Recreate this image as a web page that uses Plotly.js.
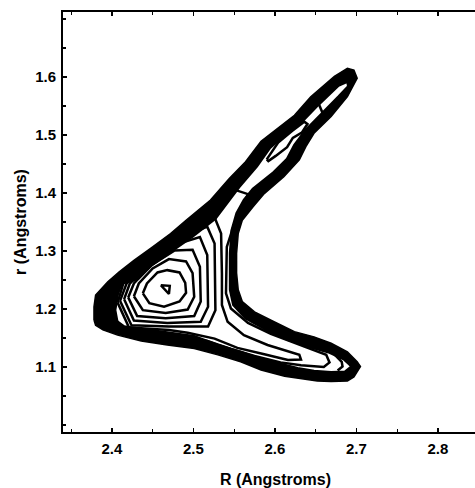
<!DOCTYPE html>
<html>
<head>
<meta charset="utf-8">
<script src="https://cdn.plot.ly/plotly-3.0.1.min.js"></script>
<style>
  html, body { margin: 0; padding: 0; overflow: hidden; background: #fff; }
  #chart { width: 490px; height: 488px; }
</style>
</head>
<body>
<div id="chart"></div>
<script>
// Axis ticks
const xTicks = [2.4, 2.5, 2.6, 2.7, 2.8];
const yTicks = [1.1, 1.2, 1.3, 1.4, 1.5, 1.6];

// Outer boundary of the density (outermost contour), R / r in Angstroms
const outerR = [2.378,2.378,2.380,2.395,2.409,2.427,2.450,2.472,2.491,2.509,2.521,2.544,2.564,2.583,2.603,2.624,2.644,2.673,2.689,2.697,2.701,2.689,2.669,2.648,2.638,2.630,2.611,2.587,2.573,2.560,2.555,2.553,2.553,2.555,2.560,2.575,2.599,2.624,2.648,2.669,2.689,2.701,2.705,2.697,2.689,2.669,2.652,2.632,2.612,2.583,2.558,2.530,2.501,2.468,2.436,2.407,2.389,2.380];
const outerr = [1.181,1.204,1.224,1.247,1.264,1.284,1.307,1.330,1.353,1.374,1.388,1.425,1.454,1.489,1.511,1.534,1.566,1.601,1.615,1.612,1.598,1.566,1.532,1.503,1.480,1.457,1.428,1.399,1.376,1.353,1.330,1.296,1.262,1.233,1.213,1.195,1.178,1.161,1.152,1.141,1.126,1.109,1.101,1.083,1.076,1.075,1.076,1.080,1.084,1.095,1.109,1.121,1.132,1.138,1.145,1.155,1.164,1.172];

// Inner edge of the dense band of outer contours
const bandR = [2.403,2.405,2.412,2.432,2.450,2.474,2.499,2.527,2.556,2.578,2.594,2.612,2.634,2.654,2.678,2.689,2.690,2.678,2.657,2.638,2.624,2.615,2.597,2.573,2.562,2.553,2.547,2.545,2.545,2.549,2.564,2.591,2.616,2.644,2.667,2.685,2.694,2.686,2.669,2.648,2.628,2.607,2.583,2.558,2.530,2.501,2.468,2.436,2.415,2.405];
const bandr = [1.195,1.218,1.244,1.252,1.277,1.300,1.325,1.356,1.410,1.446,1.478,1.500,1.524,1.553,1.585,1.592,1.584,1.566,1.537,1.509,1.483,1.459,1.434,1.407,1.388,1.365,1.336,1.296,1.233,1.207,1.184,1.163,1.147,1.134,1.125,1.113,1.101,1.092,1.091,1.093,1.098,1.105,1.114,1.126,1.138,1.153,1.160,1.166,1.170,1.180];

// Contour reaching into both arms
const armR = [2.404,2.409,2.444,2.495,2.528,2.552,2.567,2.558,2.549,2.541,2.540,2.546,2.567,2.595,2.624,2.646,2.663,2.667,2.660,2.632,2.607,2.575,2.546,2.517,2.470,2.423,2.407];
const armr = [1.198,1.244,1.290,1.339,1.364,1.405,1.398,1.371,1.342,1.307,1.227,1.201,1.176,1.157,1.141,1.130,1.121,1.108,1.100,1.103,1.108,1.119,1.131,1.145,1.156,1.163,1.175];

// Rings around the maximum (outermost first)
const ring6R = [2.407,2.414,2.446,2.499,2.526,2.534,2.535,2.535,2.542,2.562,2.591,2.620,2.630,2.632,2.616,2.587,2.554,2.526,2.493,2.470,2.421];
const ring6r = [1.211,1.244,1.286,1.336,1.358,1.330,1.261,1.207,1.178,1.155,1.138,1.125,1.121,1.113,1.112,1.122,1.133,1.149,1.159,1.164,1.168];
const ring5R = [2.410,2.418,2.446,2.493,2.517,2.526,2.527,2.518,2.470,2.424];
const ring5r = [1.214,1.244,1.282,1.328,1.342,1.313,1.198,1.170,1.170,1.172];
const ring4R = [2.415,2.422,2.447,2.485,2.508,2.517,2.518,2.509,2.468,2.427];
const ring4r = [1.217,1.244,1.279,1.314,1.324,1.293,1.204,1.178,1.176,1.180];
const ring3R = [2.420,2.427,2.448,2.477,2.499,2.508,2.509,2.501,2.466,2.431];
const ring3r = [1.220,1.244,1.275,1.301,1.302,1.273,1.213,1.188,1.184,1.188];
const ring2R = [2.427,2.433,2.450,2.470,2.491,2.499,2.501,2.493,2.466,2.438];
const ring2r = [1.222,1.244,1.270,1.286,1.282,1.262,1.221,1.199,1.193,1.198];
const ring1R = [2.438,2.443,2.456,2.468,2.483,2.490,2.491,2.483,2.464,2.446];
const ring1r = [1.227,1.244,1.263,1.267,1.263,1.245,1.228,1.213,1.204,1.210];
const peakR = [2.460,2.471,2.470];
const peakr = [1.241,1.240,1.226];

// Island in the upper arm
const islandR = [2.590,2.604,2.621,2.636,2.640,2.633,2.622,2.615,2.601,2.592];
const islandr = [1.458,1.487,1.507,1.523,1.519,1.504,1.495,1.479,1.464,1.455];
// Line across the upper arm near its tip
const tipR = [2.654,2.659];
const tipr = [1.553,1.536];
// Chevron near the lower-arm tip
const chevR = [2.673,2.682,2.683,2.677];
const chevr = [1.122,1.109,1.101,1.094];

function closed(a) { return a.concat([a[0]]); }

const LW = 2.5;
function loop(xs, ys) {
  return { type: 'scatter', mode: 'lines', x: closed(xs), y: closed(ys),
           line: { color: '#000', width: LW }, hoverinfo: 'skip', showlegend: false };
}
function open(xs, ys) {
  return { type: 'scatter', mode: 'lines', x: xs, y: ys,
           line: { color: '#000', width: LW }, hoverinfo: 'skip', showlegend: false };
}

const traces = [
  { type: 'scatter', mode: 'lines', x: closed(outerR), y: closed(outerr), fill: 'toself',
    fillcolor: '#000', line: { color: '#000', width: 1.5 }, hoverinfo: 'skip', showlegend: false },
  { type: 'scatter', mode: 'lines', x: closed(bandR), y: closed(bandr), fill: 'toself',
    fillcolor: '#fff', line: { color: '#000', width: LW }, hoverinfo: 'skip', showlegend: false },
  loop(armR, armr),
  loop(ring6R, ring6r),
  loop(ring5R, ring5r),
  loop(ring4R, ring4r),
  loop(ring3R, ring3r),
  loop(ring2R, ring2r),
  loop(ring1R, ring1r),
  loop(peakR, peakr),
  loop(islandR, islandr),
  open(tipR, tipr),
  open(chevR, chevr)
];

const tickFont = { family: 'Liberation Sans, Arial, sans-serif', size: 15, color: '#000', weight: 700 };
const titleFont = { family: 'Liberation Sans, Arial, sans-serif', size: 16, color: '#000', weight: 700 };

const layout = {
  width: 490, height: 488,
  margin: { l: 63, r: 2, t: 12, b: 56 },
  paper_bgcolor: '#fff', plot_bgcolor: '#fff',
  showlegend: false,
  xaxis: {
    range: [2.34, 2.8615], tickmode: 'array', tickvals: xTicks, tickformat: '.1f',
    ticks: 'inside', ticklen: 4, tickwidth: 1.5, tickcolor: '#000',
    minor: { tickmode: 'linear', tick0: 0, dtick: 0.05, ticks: 'inside', ticklen: 3, tickwidth: 1.2, tickcolor: '#000' },
    showline: true, linecolor: '#000', linewidth: 2, mirror: 'ticks',
    showgrid: false, zeroline: false, tickfont: tickFont, ticklabelstandoff: 2,
    title: { text: 'R (Angstroms)', font: titleFont, standoff: 20 }
  },
  yaxis: {
    range: [0.988, 1.712], tickmode: 'array', tickvals: yTicks, tickformat: '.1f',
    ticks: 'inside', ticklen: 4, tickwidth: 1.5, tickcolor: '#000',
    minor: { tickmode: 'linear', tick0: 0, dtick: 0.05, ticks: 'inside', ticklen: 3, tickwidth: 1.2, tickcolor: '#000' },
    showline: true, linecolor: '#000', linewidth: 2, mirror: 'ticks',
    showgrid: false, zeroline: false, tickfont: tickFont, ticklabelstandoff: 2,
    title: { text: 'r (Angstroms)', font: titleFont, standoff: 5 }
  }
};

Plotly.newPlot('chart', traces, layout, { staticPlot: true, displayModeBar: false });
</script>
</body>
</html>
